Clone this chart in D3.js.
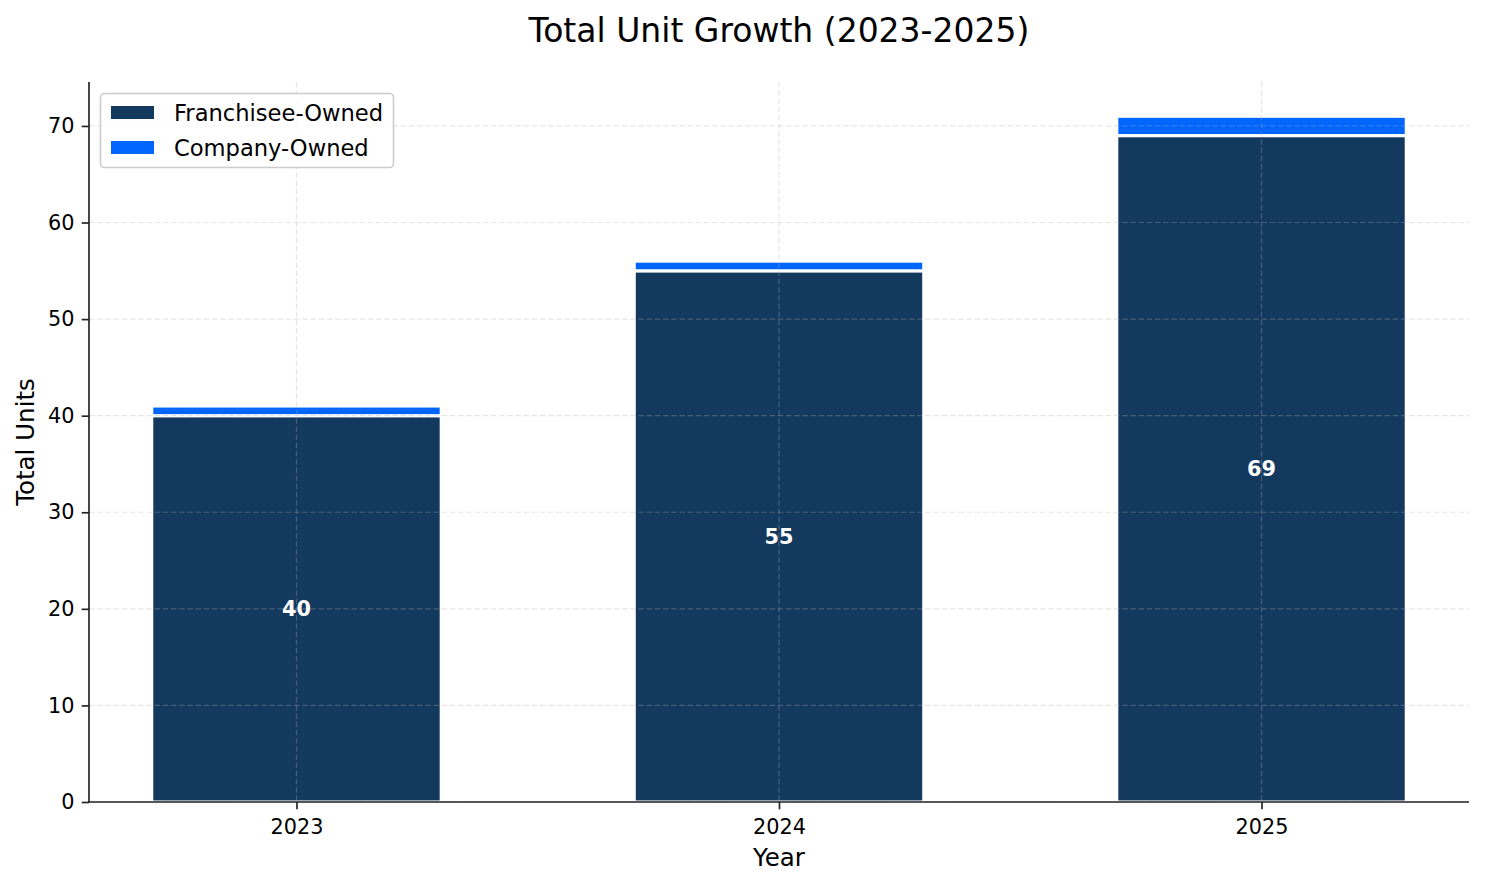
<!DOCTYPE html>
<html><head><meta charset="utf-8">
<script src="https://cdn.jsdelivr.net/npm/d3@7"></script>
<style>
html,body{margin:0;padding:0;background:#fff;}
svg text{font-family:"DejaVu Sans",sans-serif;}
</style></head>
<body>
<svg id="chart" width="1485" height="884"></svg>
<script>
const years = ["2023", "2024", "2025"];
const franchisee = [40, 55, 69];
const company = [1, 1, 2];
const yTicks = [0, 10, 20, 30, 40, 50, 60, 70];
const seriesNames = ["Franchisee-Owned", "Company-Owned"];
const colors = ["#14395f", "#0066ff"];

const W = 1485, H = 884;
const m = {left: 89, right: 1469, top: 82, bottom: 802};
const svg = d3.select("#chart");

const maxTotal = d3.max(years.map((d, i) => franchisee[i] + company[i]));
const y = d3.scaleLinear().domain([0, maxTotal * 1.05]).range([m.bottom, m.top]);
const barW = 0.6;
const x = d3.scaleLinear().domain([-barW / 2 - 0.05 * (years.length - 1 + barW), years.length - 1 + barW / 2 + 0.05 * (years.length - 1 + barW)]).range([m.left, m.right]);

// bars
const gBars = svg.append("g");
const stacked = years.map((d, i) => ({year: d, i, f: franchisee[i], c: company[i]}));
gBars.selectAll("rect.f").data(stacked).enter().append("rect")
  .attr("x", d => x(d.i - barW / 2)).attr("width", d => x(d.i + barW / 2) - x(d.i - barW / 2))
  .attr("y", d => y(d.f)).attr("height", d => y(0) - y(d.f))
  .attr("fill", colors[0]).attr("stroke", "#fff").attr("stroke-width", 3.1);
gBars.selectAll("rect.c").data(stacked).enter().append("rect")
  .attr("x", d => x(d.i - barW / 2)).attr("width", d => x(d.i + barW / 2) - x(d.i - barW / 2))
  .attr("y", d => y(d.f + d.c)).attr("height", d => y(d.f) - y(d.f + d.c))
  .attr("fill", colors[1]).attr("stroke", "#fff").attr("stroke-width", 3.1);

// grid (above bars)
const gGrid = svg.append("g").attr("stroke", "#b0b0b0").attr("stroke-opacity", 0.32)
  .attr("stroke-width", 1.2).attr("stroke-dasharray", "5.5,2.7");
gGrid.selectAll("line.h").data(yTicks).enter().append("line")
  .attr("x1", m.left).attr("x2", m.right).attr("y1", d => y(d)).attr("y2", d => y(d));
gGrid.selectAll("line.v").data(years.map((d, i) => i)).enter().append("line")
  .attr("x1", d => x(d)).attr("x2", d => x(d)).attr("y1", m.top).attr("y2", m.bottom);

// bar labels
svg.append("g").selectAll("text").data(stacked).enter().append("text")
  .attr("x", d => x(d.i)).attr("y", d => y(d.f / 2)).attr("dy", "0.36em")
  .attr("text-anchor", "middle").attr("fill", "#fff").attr("font-weight", "bold")
  .attr("font-size", 20.8).text(d => d.f);

// axes
const yAxis = d3.axisLeft(y).tickValues(yTicks).tickSize(7.3).tickPadding(7.3).tickFormat(d3.format("d"));
const gy = svg.append("g").attr("transform", `translate(${m.left},0)`).call(yAxis);
const xAxis = d3.axisBottom(x).tickValues(years.map((d, i) => i)).tickSize(7.3).tickPadding(10.3).tickFormat(i => years[i]);
const gx = svg.append("g").attr("transform", `translate(0,${m.bottom})`).call(xAxis);
[gx, gy].forEach(g => {
  g.select(".domain").remove();
  g.selectAll(".tick line").attr("stroke", "#222").attr("stroke-width", 1.67);
  g.selectAll(".tick text").attr("fill", "#000").attr("font-size", 20.8).style("font-family", "DejaVu Sans");
});
svg.append("line").attr("x1", m.left).attr("x2", m.left).attr("y1", m.top).attr("y2", m.bottom + 0.8)
  .attr("stroke", "#222").attr("stroke-width", 1.67);
svg.append("line").attr("x1", m.left - 0.8).attr("x2", m.right).attr("y1", m.bottom).attr("y2", m.bottom)
  .attr("stroke", "#222").attr("stroke-width", 1.67);

// titles
svg.append("text").attr("x", (m.left + m.right) / 2).attr("y", 30).attr("dy", "0.36em")
  .attr("text-anchor", "middle").attr("font-size", 33).attr("fill", "#000").text("Total Unit Growth (2023-2025)");
svg.append("text").attr("x", (m.left + m.right) / 2).attr("y", 857).attr("dy", "0.36em")
  .attr("text-anchor", "middle").attr("font-size", 24.5).attr("fill", "#000").text("Year");
svg.append("text").attr("transform", `translate(25,${(m.top + m.bottom) / 2}) rotate(-90)`).attr("dy", "0.36em")
  .attr("text-anchor", "middle").attr("font-size", 24.5).attr("fill", "#000").text("Total Units");

// legend
const lg = svg.append("g");
lg.append("rect").attr("x", 100.5).attr("y", 93.5).attr("width", 293).attr("height", 74).attr("rx", 4)
  .attr("fill", "#fff").attr("fill-opacity", 0.8).attr("stroke", "#ccc").attr("stroke-width", 1.6);
seriesNames.forEach((n, k) => {
  const cy = 112.5 + k * 35;
  lg.append("rect").attr("x", 111).attr("y", cy - 6.5).attr("width", 43).attr("height", 13).attr("fill", colors[k]);
  lg.append("text").attr("x", 174).attr("y", cy).attr("dy", "0.36em").attr("font-size", 22.6).attr("fill", "#000").text(n);
});
</script>
</body></html>
